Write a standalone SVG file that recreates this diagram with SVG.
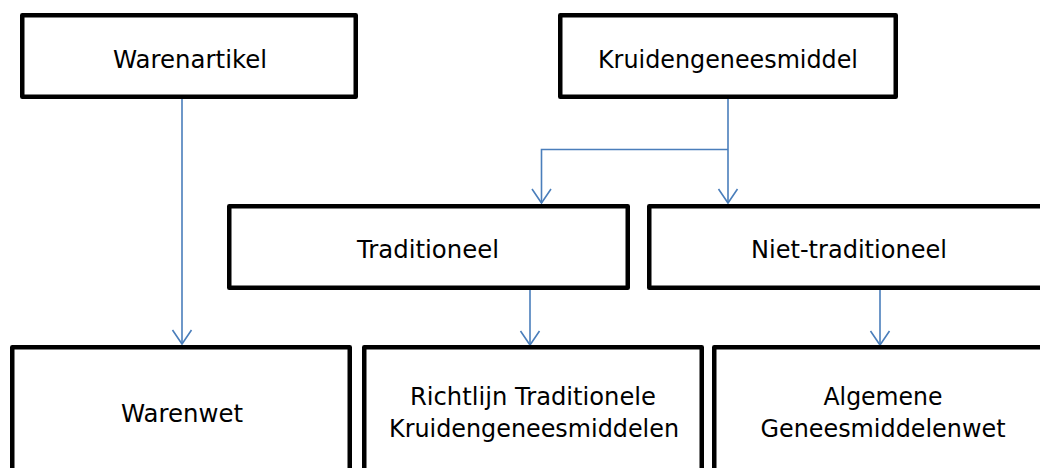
<svg xmlns="http://www.w3.org/2000/svg" width="1040" height="468" viewBox="0 0 1040 468">
<style>
.box{fill:#fff;stroke:#000;stroke-width:4.5;stroke-linejoin:round}
.t{font-family:"DejaVu Sans",Verdana,sans-serif;font-size:25px;fill:#000;text-anchor:middle}
.c{fill:none;stroke:#4A7EBB;stroke-width:1.6}
</style>
<defs>
<marker id="arr" markerUnits="userSpaceOnUse" viewBox="-15 -15 30 30" markerWidth="30" markerHeight="30" refX="0" refY="0" orient="auto" overflow="visible">
<path d="M-14,-9.5 L0,0 L-14,9.5" fill="none" stroke="#4A7EBB" stroke-width="1.6"/>
</marker>
</defs>
<rect width="1040" height="468" fill="#fff"/>
<g id="connectors">
<path class="c" d="M182,99 V344" marker-end="url(#arr)"/>
<path class="c" d="M728,99 V203" marker-end="url(#arr)"/>
<path class="c" d="M728,149.5 H541.5 V203" marker-end="url(#arr)"/>
<path class="c" d="M530,290 V345" marker-end="url(#arr)"/>
<path class="c" d="M880,290 V345" marker-end="url(#arr)"/>
</g>
<g id="warenartikel">
<rect class="box" x="22.25" y="15.25" width="333.5" height="81.5"/>
<text class="t" x="190" y="68" textLength="154" lengthAdjust="spacingAndGlyphs">Warenartikel</text>
</g>
<g id="kruidengeneesmiddel">
<rect class="box" x="560.25" y="15.25" width="335.5" height="81.5"/>
<text class="t" x="728" y="68" textLength="260" lengthAdjust="spacingAndGlyphs">Kruidengeneesmiddel</text>
</g>
<g id="traditioneel">
<rect class="box" x="229.25" y="206.25" width="398.5" height="81.5"/>
<text class="t" x="428" y="258" textLength="142" lengthAdjust="spacingAndGlyphs">Traditioneel</text>
</g>
<g id="niet-traditioneel">
<rect class="box" x="649.25" y="206.25" width="400" height="81.5"/>
<text class="t" x="849" y="258" textLength="196" lengthAdjust="spacingAndGlyphs">Niet-traditioneel</text>
</g>
<g id="warenwet">
<rect class="box" x="12.25" y="347.25" width="337.5" height="160"/>
<text class="t" x="182" y="422" textLength="122" lengthAdjust="spacingAndGlyphs">Warenwet</text>
</g>
<g id="richtlijn">
<rect class="box" x="364.25" y="347.25" width="337.5" height="160"/>
<text class="t" x="533" y="405" textLength="246" lengthAdjust="spacingAndGlyphs">Richtlijn Traditionele</text>
<text class="t" x="534" y="437" textLength="290" lengthAdjust="spacingAndGlyphs">Kruidengeneesmiddelen</text>
</g>
<g id="geneesmiddelenwet">
<rect class="box" x="714.25" y="347.25" width="350" height="160"/>
<text class="t" x="883" y="405" textLength="119" lengthAdjust="spacingAndGlyphs">Algemene</text>
<text class="t" x="883" y="437" textLength="245" lengthAdjust="spacingAndGlyphs">Geneesmiddelenwet</text>
</g>
</svg>
